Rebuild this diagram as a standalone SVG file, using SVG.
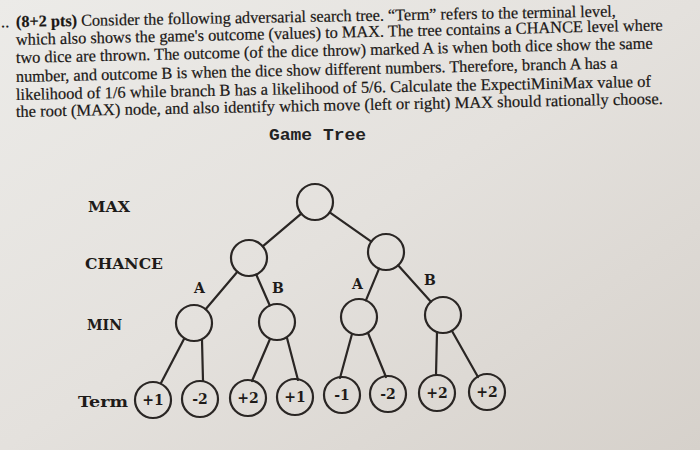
<svg xmlns="http://www.w3.org/2000/svg" width="700" height="450" viewBox="0 0 700 450">
<defs>
<linearGradient id="paper" x1="0" y1="0" x2="1" y2="1">
<stop offset="0" stop-color="#ecebe8"/>
<stop offset="0.5" stop-color="#e4e1dd"/>
<stop offset="1" stop-color="#d6d1cb"/>
</linearGradient>
<style>
.p{font-family:"Liberation Serif","Times New Roman",serif;font-size:16.5px;fill:#1a1715;stroke:#1a1715;stroke-width:0.2}
.gt{font-family:"Liberation Mono","Courier New",monospace;font-size:17px;font-weight:bold;fill:#222}
.lvl{font-family:"DejaVu Serif",serif;font-size:15.5px;font-weight:bold;fill:#1e1b19}
.br{font-family:"DejaVu Serif",serif;font-size:14px;font-weight:bold;fill:#1e1b19}
.val{font-family:"DejaVu Serif",serif;font-size:14px;font-weight:bold;fill:#1e1b19;text-anchor:middle}
.n{fill:none;stroke:#2a2624;stroke-width:2.2}
.e{stroke:#2a2624;stroke-width:2.2;fill:none;stroke-linecap:round}
</style>
</defs>
<rect width="700" height="450" fill="url(#paper)"/>

<g id="question">
<text class="p" x="1" y="27" transform="rotate(-1,16,27)">..</text>
<text class="p" x="16" y="27" textLength="600" lengthAdjust="spacingAndGlyphs" transform="rotate(-1,16,27)"><tspan font-weight="bold">(8+2 pts)</tspan> Consider the following adversarial search tree. “Term” refers to the terminal level,</text>
<text class="p" x="16" y="45" textLength="647" lengthAdjust="spacingAndGlyphs" transform="rotate(-1.3,16,45)">which also shows the game's outcome (values) to MAX. The tree contains a CHANCE level where</text>
<text class="p" x="16" y="63" textLength="637" lengthAdjust="spacingAndGlyphs" transform="rotate(-1.3,16,63)">two dice are thrown. The outcome (of the dice throw) marked A is when both dice show the same</text>
<text class="p" x="16" y="82" textLength="602" lengthAdjust="spacingAndGlyphs" transform="rotate(-1.3,16,82)">number, and outcome B is when the dice show different numbers. Therefore, branch A has a</text>
<text class="p" x="16" y="100" textLength="635" lengthAdjust="spacingAndGlyphs" transform="rotate(-1.2,16,100)">likelihood of 1/6 while branch B has a likelihood of 5/6. Calculate the ExpectiMiniMax value of</text>
<text class="p" x="16" y="117" textLength="647" lengthAdjust="spacingAndGlyphs" transform="rotate(-1.15,16,117)">the root (MAX) node, and also identify which move (left or right) MAX should rationally choose.</text>
</g>

<text class="gt" x="269" y="140" textLength="97" lengthAdjust="spacingAndGlyphs">Game Tree</text>

<g id="level-labels">
<text class="lvl" x="88" y="212" textLength="42" lengthAdjust="spacingAndGlyphs">MAX</text>
<text class="lvl" x="85" y="269" textLength="78" lengthAdjust="spacingAndGlyphs">CHANCE</text>
<text class="lvl" x="87" y="330" textLength="35" lengthAdjust="spacingAndGlyphs">MIN</text>
<text class="lvl" x="78" y="407" textLength="50" lengthAdjust="spacingAndGlyphs">Term</text>
</g>

<g id="connectors">
<line class="e" x1="301.3" y1="213.6" x2="262.7" y2="246.4"/>
<line class="e" x1="329.7" y1="212.4" x2="371.3" y2="241.6"/>
<line class="e" x1="237.4" y1="271.8" x2="205.6" y2="309.2"/>
<line class="e" x1="256.2" y1="274.5" x2="269.8" y2="305.5"/>
<line class="e" x1="379.1" y1="268.6" x2="365.9" y2="300.4"/>
<line class="e" x1="398.1" y1="265.3" x2="430.9" y2="301.7"/>
<line class="e" x1="184" y1="339" x2="161" y2="383"/>
<line class="e" x1="202" y1="340" x2="203" y2="381"/>
<line class="e" x1="270" y1="339" x2="252" y2="381"/>
<line class="e" x1="287" y1="338" x2="298" y2="380"/>
<line class="e" x1="352" y1="334" x2="340" y2="378"/>
<line class="e" x1="368" y1="333" x2="386" y2="377"/>
<line class="e" x1="437" y1="332" x2="436" y2="375"/>
<line class="e" x1="452" y1="331" x2="478" y2="377"/>
<text class="br" x="194" y="293">A</text>
<text class="br" x="272" y="293">B</text>
<text class="br" x="352" y="289">A</text>
<text class="br" x="424" y="285">B</text>
</g>

<g id="max-root"><circle class="n" cx="315" cy="202" r="18"/></g>
<g id="chance-left"><circle class="n" cx="249" cy="258" r="18"/></g>
<g id="chance-right"><circle class="n" cx="386" cy="252" r="18"/></g>
<g id="min-1"><circle class="n" cx="194" cy="323" r="18"/></g>
<g id="min-2"><circle class="n" cx="277" cy="322" r="18"/></g>
<g id="min-3"><circle class="n" cx="359" cy="317" r="18"/></g>
<g id="min-4"><circle class="n" cx="443" cy="315" r="18"/></g>

<g id="term-1"><circle class="n" cx="153" cy="400" r="18"/><text class="val" x="153" y="405">+1</text></g>
<g id="term-2"><circle class="n" cx="200" cy="399" r="18"/><text class="val" x="200" y="404">-2</text></g>
<g id="term-3"><circle class="n" cx="248" cy="398" r="18"/><text class="val" x="248" y="403">+2</text></g>
<g id="term-4"><circle class="n" cx="295" cy="397" r="18"/><text class="val" x="295" y="402">+1</text></g>
<g id="term-5"><circle class="n" cx="342" cy="395" r="18"/><text class="val" x="342" y="400">-1</text></g>
<g id="term-6"><circle class="n" cx="388" cy="394" r="18"/><text class="val" x="388" y="399">-2</text></g>
<g id="term-7"><circle class="n" cx="437" cy="393" r="18"/><text class="val" x="437" y="398">+2</text></g>
<g id="term-8"><circle class="n" cx="487" cy="392" r="18"/><text class="val" x="487" y="397">+2</text></g>
</svg>
